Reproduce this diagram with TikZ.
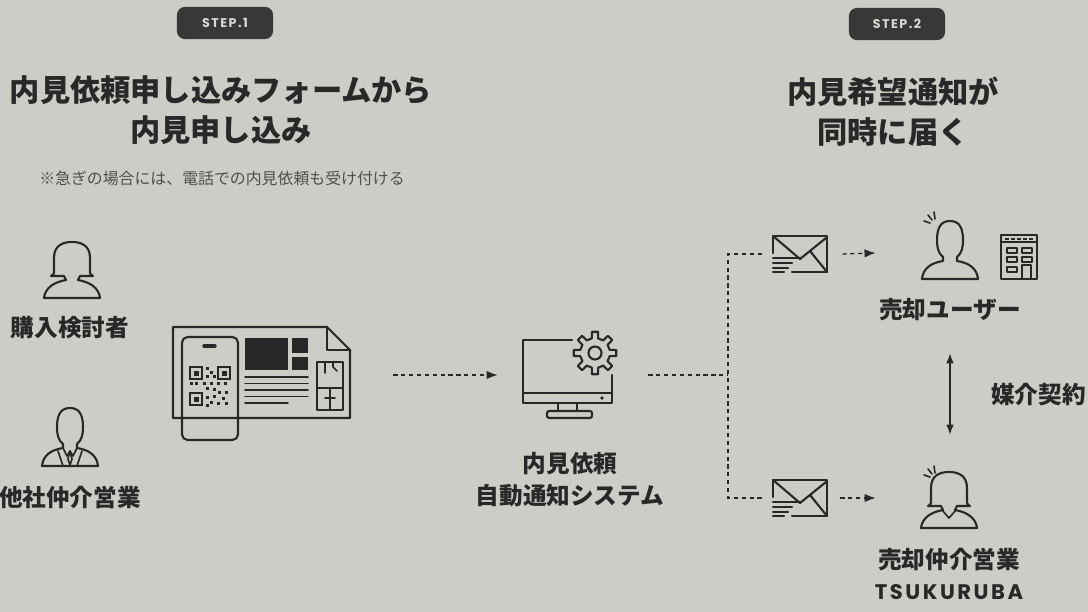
\documentclass[tikz,border=0pt]{standalone}
\usepackage{fontspec}
\setmainfont{Noto Sans CJK JP}
\newfontfamily\poppins{Poppins}[LetterSpace=12]
\usetikzlibrary{arrows.meta,positioning}
\definecolor{papier}{HTML}{CDCDC8}
\definecolor{tinte}{HTML}{282828}
\definecolor{grau}{HTML}{4F4F4F}
\definecolor{marke}{HTML}{383838}
\definecolor{hmarke}{HTML}{D8D8D3}
\tikzset{
  ikon/.style={tinte,line width=1.5pt,line join=round,line cap=round},
  fein/.style={tinte,line width=1.15pt,line join=round,line cap=round},
  fluss/.style={-{Latex[length=2.8mm,width=2.1mm]},tinte,line width=0.95pt,dash pattern=on 3pt off 2.6pt},
  strich/.style={tinte,line width=0.95pt,dash pattern=on 3pt off 2.6pt},
  doppel/.style={{Latex[length=2.5mm,width=1.9mm]}-{Latex[length=2.5mm,width=1.9mm]},tinte,line width=1pt},
  schritt/.style={fill=marke,rounded corners=5.5pt,minimum width=2.4cm,minimum height=0.8cm,inner sep=0pt,
    text=hmarke,font=\poppins\bfseries\fontsize{9}{10}\selectfont},
  titel/.style={tinte,align=center,font=\bfseries\fontsize{21.5}{28.4}\selectfont},
  etikett/.style={tinte,align=center,font=\bfseries\fontsize{16.8}{22.8}\selectfont},
  hinweis/.style={grau,font=\fontsize{11.3}{14}\selectfont},
  platz/.style 2 args={minimum width=#1*0.025cm,minimum height=#2*0.025cm,inner sep=0pt},
  pics/frau/.style={code={
    \draw[ikon] (-6,10) -- (-8,6) -- (-21,6) .. controls (-18,4) .. (-18,0) -- (-18,-12)
      .. controls (-18,-24) and (-10,-28) .. (0,-28) .. controls (10,-28) and (18,-24) .. (18,-12)
      -- (18,0) .. controls (18,4) .. (21,6) -- (8,6) -- (6,10)
      .. controls (18,12) and (27,18) .. (28,28) -- (-28,28) .. controls (-27,18) and (-18,12) .. cycle;
  }},
  pics/kragen/.style={code={
    \draw[fein] (-7,10) -- (0,18) -- (7,10);
  }},
  pics/mann/.style={code={
    \draw[ikon] (-7,6) .. controls (-12,2) and (-13,-4) .. (-13,-11)
      .. controls (-13,-25) and (-8,-30) .. (0,-30) .. controls (8,-30) and (13,-25) .. (13,-11)
      .. controls (13,-4) and (12,2) .. (7,6) -- (7,10)
      .. controls (20,12) and (27,18) .. (28,28) -- (-28,28) .. controls (-27,18) and (-20,12) .. (-7,10) -- cycle;
  }},
  pics/anzug/.style={code={
    \draw[fein] (-7,10) -- (-3,18) -- (0,13) -- (3,18) -- (7,10);
    \draw[fein] (0,13) -- (-2,21) -- (0,27) -- (2,21) -- cycle;
    \draw[fein] (-12,13) -- (-7,28) (12,13) -- (7,28);
  }},
  pics/ping/.style={code={
    \draw[fein] (-1,-6) -- (-2,-13) (-4,-5) -- (-8,-10) (-6,-2) -- (-12,-4);
  }},
  pics/brief/.style={code={
    \draw[ikon] (-27,-1) -- (-27,-18) -- (27,-18) -- (27,18) -- (-8,18);
    \draw[ikon] (-27,-18) -- (0,5) -- (26,-16);
    \draw[ikon] (10,-3) -- (27,18);
    \foreach \y/\l in {4/0,9/-8,14/-12,18/-16}{\draw[ikon] (-27,\y) -- (\l,\y);}
  }},
}
\begin{document}
\begin{tikzpicture}[x=0.025cm,y=-0.025cm]
  \useasboundingbox (0,0) rectangle (1088,612);
  \fill[papier] (0,0) rectangle (1088,612);

  \node[schritt] (schritt1) at (225,23) {STEP.1};
  \node[schritt] (schritt2) at (897,24) {STEP.2};
  \node[titel] (titel1) at (221,110) {内見依頼申し込みフォームから\\内見申し込み};
  \node[titel] (titel2) at (893,112) {内見希望通知が\\同時に届く};
  \node[hinweis] (hinweis) at (222,178) {※急ぎの場合には、電話での内見依頼も受け付ける};

  \pic at (72,270) {frau};
  \node[etikett] (kaeufer) at (70,328) {購入検討者};
  \pic at (70,438) {mann};
  \pic at (70,438) {anzug};
  \node[etikett] (fremd) at (70,497) {他社仲介営業};

  \node[platz={177}{96}] (flyer) at (261.5,375) {};
  \draw[ikon] (327,327) -- (173,327) -- (173,418) -- (350,418) -- (350,350) -- cycle;
  \draw[ikon] (327,327) -- (327,350) -- (350,350);
  \fill[tinte] (245,338) rectangle (288,370);
  \fill[tinte] (292,338) rectangle (308,353);
  \fill[tinte] (292,357) rectangle (308,370);
  \foreach \y in {377,383.5,390,396.5}{\draw[fein] (245,\y) -- (308,\y);}
  \draw[fein] (245,403) -- (288,403);
  \draw[fein] (317,362) rectangle (343,410);
  \draw[fein] (317,388) -- (343,388) (330,388) -- (330,410) (325,398) -- (335,398);
  \draw[fein] (325,362) -- (325,373) (333,362) -- (333,367) -- (337,371);
  \draw[ikon,rounded corners=4pt] (182,337) rectangle (238,440);
  \draw[tinte,line width=2.4pt,line cap=round] (204,346) -- (215,346);
  \foreach \x/\y in {190/367,218/367,190/393}{
    \draw[tinte,line width=0.9pt] (\x,\y) rectangle ++(12,12);
    \fill[tinte] (\x+3.5,\y+3.5) rectangle ++(5,5);
  }
  \foreach \x/\y in {206/367,210/371,206/375,213/375,190/382,195/382,203/382,210/382,217/382,224/382,
                     206/387,213/388,218/391,225/391,206/396,213/395,222/397,210/401,217/402,225/402,206/404}{
    \fill[tinte] (\x,\y) rectangle ++(3.2,3.2);
  }

  \node[platz={89}{78}] (pc) at (567.5,375) {};
  \draw[ikon] (572,340) -- (523,340) -- (523,403) -- (612,403) -- (612,375);
  \draw[ikon] (523,393) -- (612,393);
  \fill[tinte] (602,398) circle (1.8);
  \draw[ikon] (558,403) -- (558,411) (577,403) -- (577,411);
  \draw[ikon,rounded corners=1.5pt] (547,411) rectangle (592,418);
  \draw[ikon,shift={(595,353)}] (-12:15)
    \foreach \w in {0,45,...,315}{ -- (\w-12:15) -- (\w-8:21.5) -- (\w+8:21.5) -- (\w+12:15)
      arc[start angle=\w+12,end angle=\w+33,radius=15] } -- cycle;
  \draw[ikon] (595,353) circle (6.5);
  \node[etikett] (system) at (570,480) {内見依頼\\自動通知システム};

  \coordinate (gabel) at (728,375);
  \node[platz={54}{36}] (brief1) at (800,254) {};
  \node[platz={54}{36}] (brief2) at (800,498) {};
  \pic at (brief1) {brief};
  \pic at (brief2) {brief};

  \node[platz={148}{66}] (nutzer) at (950,253) {};
  \pic at (950,251) {mann};
  \pic at (936,225) {ping};
  \draw[ikon] (1001,235) rectangle (1037,279);
  \draw[ikon] (1001,242) -- (1037,242);
  \foreach \x in {1005,1011,1017,1023,1029}{\fill[tinte] (\x,237.5) rectangle ++(3.5,2.5);}
  \foreach \y in {248,257}{\draw[fein] (1007,\y) rectangle ++(10,5) (1022,\y) rectangle ++(10,5);}
  \draw[fein] (1007,267) rectangle ++(10,5);
  \draw[fein] (1022,279) -- (1022,265) -- (1031,265) -- (1031,279);
  \node[etikett] (nutzertext) at (950,310) {売却ユーザー};

  \node[platz={148}{66}] (makler) at (950,498) {};
  \pic at (949,500) {frau};
  \pic at (949,500) {kragen};
  \pic at (936,479) {ping};
  \node[etikett] (maklertext) at (949,560) {売却仲介営業};
  \node[tinte,font=\poppins\bfseries\fontsize{15}{18}\selectfont] (firma) at (949,592) {TSUKURUBA};
  \node[etikett,anchor=west,inner sep=0pt] (vertrag) at (991,395) {媒介契約};

  \draw[fluss] ([xshift=1.075cm]flyer.east) -- ([xshift=-0.625cm]pc.west);
  \draw[strich] ([xshift=0.9cm]pc.east) -- (gabel);
  \draw[strich] ([xshift=-0.275cm]brief1.west) -| (gabel) |- ([xshift=-0.275cm]brief2.west);
  \draw[fluss] ([xshift=0.375cm]brief1.east) -- (nutzer.west);
  \draw[fluss] ([xshift=0.325cm]brief2.east) -- (makler.west);
  \draw[doppel] ([yshift=-1.675cm]nutzer.south) -- ([yshift=0.75cm]makler.north);
\end{tikzpicture}
\end{document}
